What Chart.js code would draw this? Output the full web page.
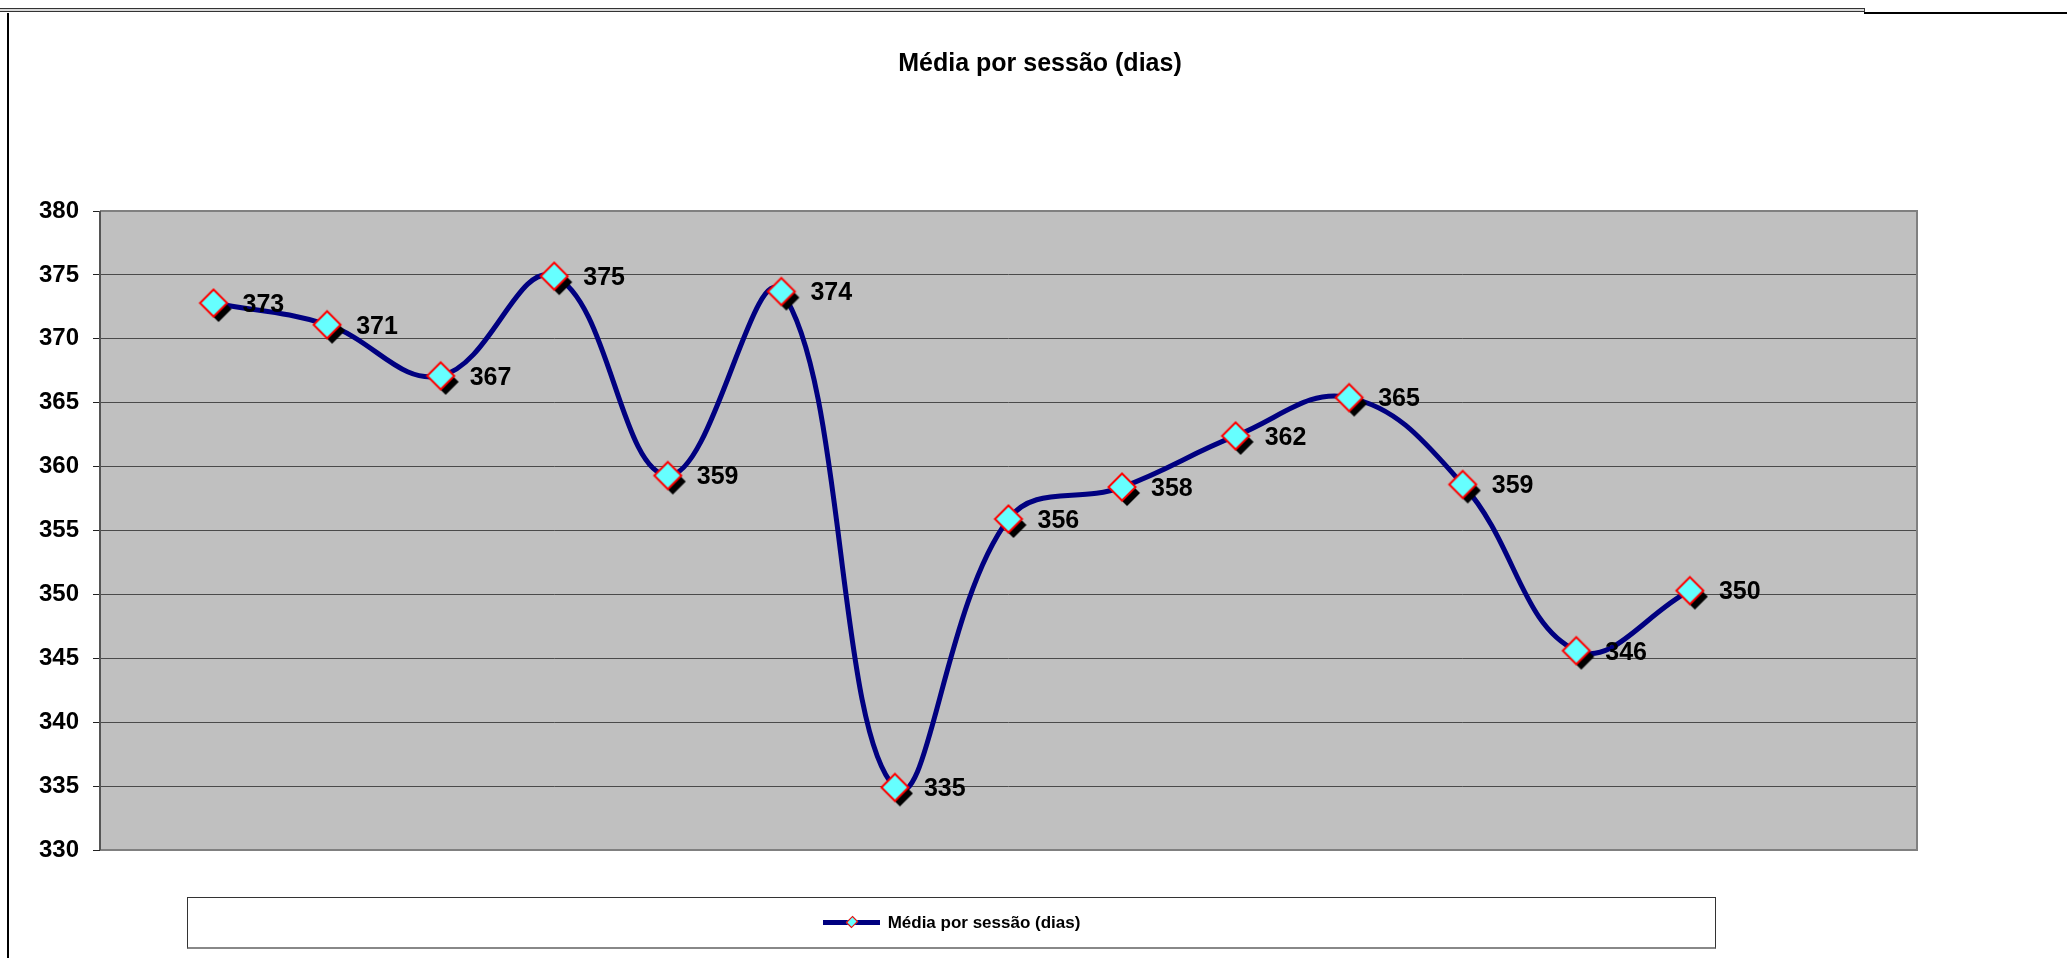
<!DOCTYPE html>
<html>
<head>
<meta charset="utf-8">
<script src="https://cdn.jsdelivr.net/npm/chart.js@4"></script>
<style>
  body { margin: 0; width: 2067px; height: 958px; overflow: hidden; background: #fff; position: relative; font-family: "Liberation Sans", Arial, sans-serif; }
  #chart { position: absolute; left: 0; top: 0; }
  .frame-top { position: absolute; left: 0; top: 8px; width: 1864px; height: 2px; border-top: 1px solid #333; border-bottom: 1px solid #333; border-right: 1px solid #333; background: #d8d8d8; }
  .frame-top-right { position: absolute; left: 1864px; top: 12px; width: 203px; height: 2px; background: #000; }
  .frame-left { position: absolute; left: 7px; top: 13px; width: 2px; height: 945px; background: #000; }
  .title { position: absolute; left: 1040px; top: 62px; transform: translate(-50%, -50%); font-weight: bold; font-size: 25px; white-space: nowrap; }
  .legend { position: absolute; left: 187px; top: 897px; width: 1527px; height: 49px; border: 1px solid #333; border-bottom: 2px solid #888; display: flex; align-items: center; justify-content: center; }
  .legend .sample { position: relative; width: 57px; height: 5px; background: #000080; margin-right: 8px; }
  .legend .sample::after { content: ""; position: absolute; left: 25px; top: -2px; width: 6px; height: 6px; background: #66ffff; border: 1px solid #f00; transform: rotate(45deg) scaleY(1.2); }
  .legend span { font-weight: bold; font-size: 17px; }
</style>
</head>
<body>
<div class="frame-top"></div>
<div class="frame-top-right"></div>
<div class="frame-left"></div>
<canvas id="chart" width="2067" height="958"></canvas>
<div class="title">Média por sessão (dias)</div>
<div class="legend"><div class="sample"></div><span>Média por sessão (dias)</span></div>
<script>
// Data
const seriesName = 'Média por sessão (dias)';
const sessions = [1, 2, 3, 4, 5, 6, 7, 8, 9, 10, 11, 12, 13, 14];
const mediaDias = [372.8, 371.1, 367.1, 374.9, 359.3, 373.7, 334.9, 355.9, 358.4, 362.4, 365.4, 358.6, 345.6, 350.3];
const yMin = 330, yMax = 380, yStep = 5;
const xMin = 0, xMax = 16;

// Diamond marker with a black drop shadow
function makeMarker() {
    const c = document.createElement('canvas');
    c.width = 44; c.height = 44;
    const g = c.getContext('2d');
    const diamond = (cx, cy, r) => {
        g.beginPath();
        g.moveTo(cx, cy - r); g.lineTo(cx + r, cy); g.lineTo(cx, cy + r); g.lineTo(cx - r, cy);
        g.closePath();
    };
    diamond(27, 28, 13);
    g.fillStyle = '#000';
    g.fill();
    diamond(22, 22, 13.5);
    g.fillStyle = '#66ffff';
    g.fill();
    g.lineWidth = 2;
    g.strokeStyle = '#ff0000';
    g.stroke();
    return c;
}

// Plot area background + border
const plotArea = {
    id: 'plotArea',
    beforeDraw(chart) {
        const { ctx, chartArea: a } = chart;
        ctx.save();
        ctx.fillStyle = '#c0c0c0';
        ctx.fillRect(a.left, a.top, a.right - a.left, a.bottom - a.top);
        ctx.restore();
    },
    beforeDatasetsDraw(chart) {
        const { ctx, chartArea: a } = chart;
        ctx.save();
        ctx.strokeStyle = '#808080';
        ctx.lineWidth = 2;
        ctx.beginPath();
        ctx.moveTo(a.left, a.top); ctx.lineTo(a.right, a.top); ctx.lineTo(a.right, a.bottom); ctx.lineTo(a.left, a.bottom);
        ctx.stroke();
        ctx.strokeStyle = '#555';
        ctx.beginPath();
        ctx.moveTo(a.left, a.top); ctx.lineTo(a.left, a.bottom);
        ctx.stroke();
        ctx.restore();
    }
};

// Value labels right of each marker
const valueLabels = {
    id: 'valueLabels',
    afterDatasetsDraw(chart) {
        const { ctx } = chart;
        const meta = chart.getDatasetMeta(0);
        ctx.save();
        ctx.font = 'bold 25px "Liberation Sans", Arial, sans-serif';
        ctx.fillStyle = '#000';
        ctx.textAlign = 'left';
        ctx.textBaseline = 'middle';
        meta.data.forEach((pt, i) => {
            ctx.fillText(String(Math.round(mediaDias[i])), pt.x + 29, pt.y + 2);
        });
        ctx.restore();
    }
};

new Chart(document.getElementById('chart'), {
    type: 'line',
    data: {
        datasets: [{
            label: seriesName,
            data: sessions.map((s, i) => ({ x: s, y: mediaDias[i] })),
            borderColor: '#000080',
            borderWidth: 5,
            tension: 0.4,
            pointStyle: makeMarker(),
            fill: false
        }]
    },
    options: {
        responsive: false,
        animation: false,
        events: [],
        layout: { padding: { top: 211, bottom: 108, left: 0, right: 150 } },
        plugins: {
            legend: { display: false },
            title: { display: false },
            tooltip: { enabled: false }
        },
        scales: {
            x: {
                type: 'linear',
                min: xMin,
                max: xMax,
                display: false
            },
            y: {
                min: yMin,
                max: yMax,
                afterFit(scale) { scale.width = 100; },
                ticks: {
                    stepSize: yStep,
                    color: '#000',
                    padding: 14,
                    font: { family: '"Liberation Sans", Arial, sans-serif', size: 24, weight: 'bold' }
                },
                grid: {
                    color: '#4a4a4a',
                    lineWidth: 1,
                    tickLength: 7,
                    tickColor: '#222'
                },
                border: { display: false }
            }
        }
    },
    plugins: [plotArea, valueLabels]
});
</script>
</body>
</html>
